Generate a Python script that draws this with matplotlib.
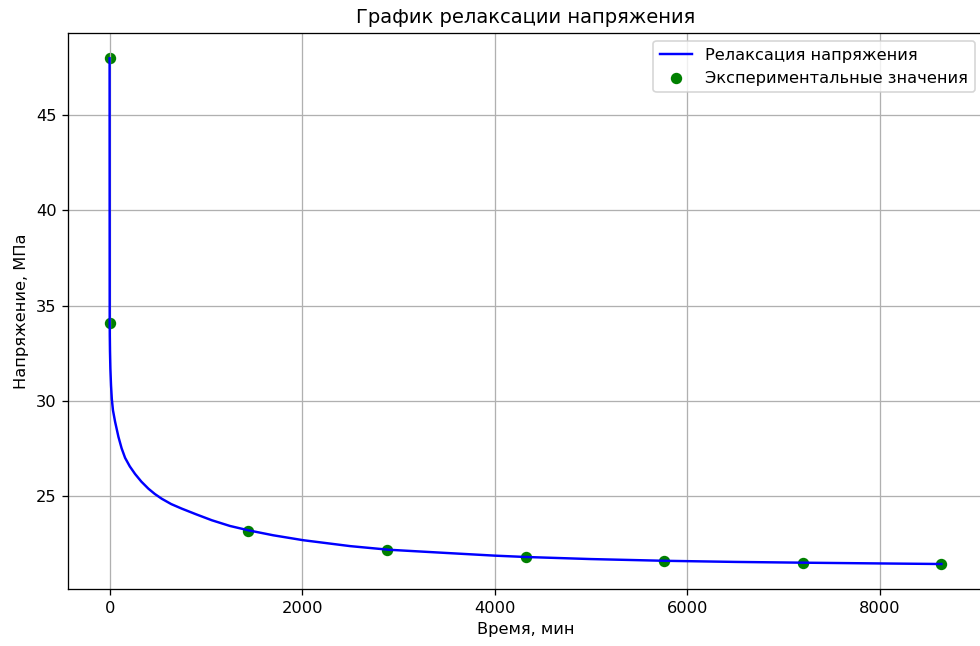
import numpy as np
from matplotlib import pyplot as plt

# экспериментальные точки (время, мин / напряжение, МПа)
t_exp = [0, 1, 1440, 2880, 4320, 5760, 7200, 8640]
sigma_exp = [48.0, 34.1, 23.18, 22.17, 21.79, 21.59, 21.49, 21.42]

# кривая релаксации
t_curve = [0, 1, 2, 4, 8, 15, 23, 35, 57, 92, 125, 161, 210, 265, 330,
           403, 470, 542, 640, 750, 900, 1062, 1250, 1452, 1700, 2013,
           2500, 2900, 3500, 4000, 4320, 5000, 5760, 6500, 7200, 8000, 8640]
sigma_curve = [48.0, 34.1, 33.4, 32.6, 31.7, 30.8, 30.1, 29.5, 28.9, 28.1,
               27.5, 27.0, 26.55, 26.15, 25.75, 25.38, 25.1, 24.85, 24.57,
               24.33, 24.03, 23.72, 23.42, 23.18, 22.93, 22.67, 22.36, 22.17,
               22.0, 21.86, 21.79, 21.68, 21.59, 21.53, 21.49, 21.45, 21.42]

fig = plt.figure(figsize=(980 / 117, 646 / 117), dpi=117)
ax = fig.add_axes([68 / 980, 1 - 589.3 / 646, (983 - 68) / 980, (589.3 - 33) / 646])

ax.plot(t_curve, sigma_curve, color='b', label='Релаксация напряжения')
ax.scatter(t_exp, sigma_exp, color='g', label='Экспериментальные значения')
ax.set_xlabel('Время, мин')
ax.set_ylabel('Напряжение, МПа')
ax.set_title('График релаксации напряжения')
ax.grid(True)
ax.legend(loc='upper right')

fig.savefig('out.png', dpi=117)
